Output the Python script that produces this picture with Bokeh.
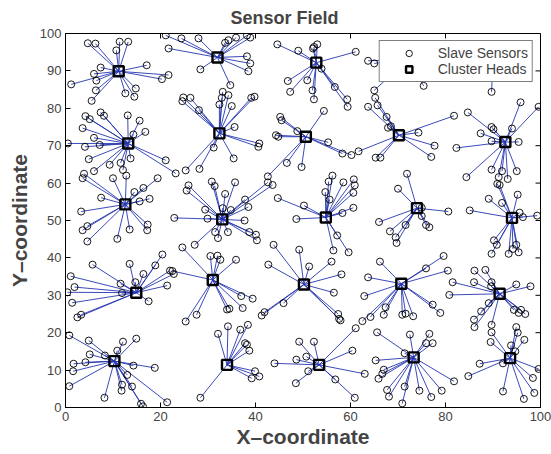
import math
from bokeh.plotting import figure
from bokeh.models import Range1d, FixedTicker, Legend, LegendItem
from bokeh.embed import file_html
from bokeh.resources import INLINE

# Cluster heads
head_x = [11.2, 32.0, 52.8, 72.0, 90.0,
          13.2, 32.4, 50.6, 70.2, 92.6,
          12.6, 33.0, 54.8, 74.0, 94.0,
          14.9, 31.0, 50.2, 70.7, 91.4,
          10.3, 34.0, 53.4, 73.3, 93.6]
head_y = [89.9, 93.6, 92.2, 93.0, 93.0,
          70.6, 73.3, 72.4, 72.8, 71.0,
          54.3, 50.3, 50.8, 53.3, 50.7,
          30.7, 34.1, 32.9, 33.1, 30.4,
          12.4, 11.4, 11.4, 13.4, 13.2]

# Slave sensors, grouped by the cluster head they report to
slave_x = [
    [4.7, 6.3, 11.4, 13.2, 10.7, 17.1, 7.4, 6.0, 6.5, 1.2, 20.3, 21.7, 14.8, 12.6, 14.5, 6.4, 5.5],
    [24.4, 28.0, 33.6, 34.3, 35.9, 38.2, 38.9, 38.2, 38.9, 38.5, 28.4, 34.7, 21.1, 21.7],
    [49.0, 52.1, 52.3, 53.0, 61.1, 53.9, 50.9, 52.0, 52.3, 56.7, 59.3, 59.4, 44.6, 46.8, 47.3],
    [63.7, 65.0, 65.0, 75.4],
    [89.7],
    [4.2, 5.1, 7.4, 8.1, 13.1, 15.6, 16.8, 14.3, 3.6, 6.0, 0.5, 4.1, 7.2, 21.1, 13.7, 4.9, 9.3, 11.6, 12.1, 23.2, 6.0],
    [24.8, 24.6, 26.3, 28.1, 33.1, 34.3, 32.9, 32.4, 35.0, 39.1, 39.8, 35.6, 40.8, 40.6, 31.2, 35.4, 25.3, 28.2],
    [54.4, 55.3, 58.3, 60.2, 48.8, 45.2, 45.5, 44.3, 44.8, 42.6, 46.6, 49.7],
    [65.2, 65.7, 63.7, 67.6, 67.9, 68.5, 74.3, 61.7, 65.3, 66.3, 77.7, 77.0, 81.8],
    [84.7, 89.7, 90.1, 94.0, 95.8, 99.6, 87.4, 89.7, 95.4, 82.3, 89.7, 91.9, 93.1, 95.0, 84.4, 91.2],
    [3.9, 3.6, 10.0, 12.8, 19.4, 16.4, 14.5, 7.5, 17.7, 15.6, 3.3, 4.6, 3.6, 4.6, 10.9, 13.5, 17.3, 17.2],
    [25.9, 25.5, 30.8, 31.4, 35.7, 33.6, 29.4, 29.9, 33.1, 34.8, 37.8, 38.5, 37.7, 31.5, 32.1, 34.2, 38.7, 40.1, 40.3, 27.2, 22.9, 42.6, 43.6],
    [56.2, 55.4, 58.5, 60.7, 60.9, 54.7, 60.6, 55.6, 60.6, 58.3, 57.2, 56.4, 59.6, 50.2, 48.6, 44.7],
    [71.9, 70.0, 66.0, 68.3, 71.6, 69.5, 69.7, 80.6, 75.0, 75.0, 75.9, 76.6],
    [90.9, 91.4, 89.1, 91.9, 95.2, 85.1, 95.6, 96.3, 99.3, 90.2, 90.8, 89.7, 93.3, 94.2, 94.9, 95.4],
    [5.7, 13.5, 16.4, 20.4, 18.9, 22.0, 22.8, 1.1, 11.6, 14.7, 21.4, 1.9, 0.4, 11.9, 17.5, 1.4, 2.5, 3.3],
    [24.6, 30.5, 32.0, 32.6, 35.9, 37.0, 39.4, 37.3, 34.0, 34.5, 27.6, 25.3, 22.5],
    [56.5, 57.4, 57.6, 57.9, 49.2, 51.3, 56.0, 58.1, 45.9, 41.9, 41.3, 43.8, 42.7],
    [62.9, 62.5, 64.2, 67.0, 67.4, 70.9, 71.6, 73.2, 77.3, 78.9, 79.6, 75.9, 80.5, 66.2, 63.7],
    [81.5, 86.0, 89.6, 89.7, 94.9, 97.9, 80.8, 89.1, 87.5, 86.0, 86.1, 89.7, 94.4, 95.4, 96.8, 95.9, 86.1, 88.4],
    [0.8, 4.9, 12.1, 14.9, 5.1, 10.9, 8.3, 1.7, 4.2, 14.3, 18.8, 1.6, 13.0, 0.8, 11.9, 14.0, 11.8, 8.2, 15.9, 16.3, 21.4],
    [32.1, 34.2, 36.8, 38.4, 37.8, 38.2, 38.7, 39.9, 40.8, 39.2, 28.4],
    [61.1, 52.3, 49.2, 50.7, 60.4, 48.6, 44.0, 48.5, 51.1, 63.0, 56.8, 60.9],
    [65.6, 72.5, 71.4, 65.3, 67.0, 66.7, 65.9, 67.7, 68.1, 71.4, 70.9, 74.5, 77.0, 79.2, 81.8, 76.6, 75.9, 77.3],
    [89.7, 94.9, 95.2, 96.6, 93.8, 94.7, 89.5, 87.2, 84.8, 92.1, 99.6, 98.4, 98.7, 96.5, 92.1],
]
slave_y = [
    [97.4, 97.3, 97.8, 97.8, 95.5, 91.5, 90.9, 89.2, 87.4, 86.4, 87.8, 88.9, 85.3, 84.0, 83.1, 84.8, 82.0],
    [98.7, 98.7, 97.5, 98.2, 98.9, 99.5, 98.9, 93.9, 92.0, 89.9, 90.4, 86.2, 99.5, 96.0],
    [95.4, 96.0, 96.4, 97.1, 95.1, 90.6, 87.5, 84.8, 82.4, 85.7, 82.4, 80.4, 97.1, 87.3, 84.4],
    [92.7, 92.0, 84.8, 86.0],
    [84.4],
    [77.9, 77.1, 78.9, 78.0, 78.1, 76.7, 73.7, 73.0, 74.7, 72.1, 70.6, 69.7, 70.2, 66.1, 66.6, 66.4, 64.9, 65.4, 63.5, 62.6, 63.2],
    [82.9, 81.9, 82.8, 79.5, 84.4, 83.5, 82.8, 81.0, 80.6, 82.8, 83.1, 75.0, 70.6, 69.7, 69.5, 66.6, 63.4, 63.8],
    [79.3, 70.9, 67.9, 67.5, 73.9, 77.7, 76.8, 72.8, 72.4, 61.8, 65.4, 64.3],
    [82.8, 80.8, 80.4, 77.7, 74.8, 75.2, 73.5, 68.5, 66.8, 66.8, 70.0, 67.0, 78.0],
    [78.9, 75.0, 74.4, 74.6, 81.6, 80.4, 73.3, 71.2, 71.0, 69.4, 63.6, 63.2, 61.1, 63.2, 61.6, 61.6],
    [62.5, 61.3, 61.3, 62.0, 61.3, 58.7, 57.6, 56.1, 55.8, 55.1, 52.4, 48.5, 47.4, 44.4, 45.1, 47.6, 48.9, 47.4],
    [59.4, 58.0, 60.4, 59.2, 60.2, 57.1, 52.9, 50.5, 53.3, 52.8, 55.6, 53.6, 50.0, 46.9, 45.3, 46.9, 46.9, 46.2, 44.7, 43.5, 50.7, 60.2, 59.5],
    [62.0, 60.4, 60.2, 61.0, 59.4, 57.6, 57.4, 55.6, 53.4, 52.0, 46.0, 42.0, 41.5, 54.0, 50.4, 56.0],
    [62.5, 58.5, 49.6, 47.1, 48.8, 45.5, 44.0, 52.4, 53.4, 51.2, 48.8, 48.2],
    [59.8, 59.5, 55.8, 54.7, 56.9, 52.7, 52.1, 50.9, 51.3, 44.7, 43.5, 41.1, 41.1, 42.4, 43.5, 41.5],
    [38.2, 38.4, 35.7, 40.9, 38.0, 36.6, 35.7, 35.1, 33.1, 33.5, 32.6, 32.2, 30.8, 30.6, 28.4, 28.0, 24.1, 24.8],
    [42.8, 40.5, 40.6, 39.5, 39.5, 29.8, 29.1, 26.6, 26.2, 26.4, 24.8, 23.0, 36.5],
    [30.7, 25.0, 23.7, 23.3, 42.2, 37.7, 39.0, 35.6, 27.9, 25.5, 24.6, 43.5, 38.2],
    [29.8, 23.1, 24.2, 24.8, 26.8, 24.8, 25.1, 24.4, 27.5, 25.3, 40.5, 37.2, 36.6, 39.0, 34.8],
    [33.5, 33.5, 32.4, 33.5, 32.9, 32.4, 30.1, 27.9, 25.7, 23.5, 21.5, 22.1, 26.1, 25.3, 25.0, 26.1, 36.6, 36.8],
    [19.3, 17.9, 17.6, 18.4, 14.2, 15.2, 13.9, 11.7, 12.1, 11.2, 10.6, 9.7, 8.7, 5.7, 6.1, 5.6, 4.5, 2.6, 1.0, 0.3, 1.4],
    [19.7, 21.7, 20.8, 22.1, 17.2, 16.8, 15.2, 9.7, 8.3, 7.8, 2.6],
    [21.2, 17.6, 17.6, 13.6, 15.2, 12.8, 11.8, 6.5, 9.7, 9.0, 7.5, 2.6],
    [20.1, 19.5, 14.5, 12.6, 10.1, 9.0, 7.7, 4.7, 2.9, 5.6, 1.1, 4.5, 2.8, 4.5, 7.0, 19.7, 17.2, 17.2],
    [20.1, 21.5, 20.0, 18.1, 16.6, 15.0, 17.5, 11.7, 8.4, 11.8, 10.3, 7.9, 3.9, 2.3, 4.3],
]

x_ticks = [0, 20, 40, 60, 80, 100]
y_ticks = [0, 10, 20, 30, 40, 50, 60, 70, 80, 90, 100]

FONT = "Liberation Sans"
LINE_BLUE = "#2536b0"

sx, sy, hx, hy = [], [], [], []
for i in range(len(head_x)):
    for xv, yv in zip(slave_x[i], slave_y[i]):
        sx.append(xv)
        sy.append(yv)
        hx.append(head_x[i])
        hy.append(head_y[i])

p = figure(width=551, height=454, output_backend="svg", toolbar_location=None,
           x_range=Range1d(0, 100), y_range=Range1d(0, 100),
           min_border_left=65, min_border_right=11, min_border_top=33, min_border_bottom=47,
           title="Sensor Field")

p.title.text_font = FONT
p.title.text_font_size = "18px"
p.title.text_font_style = "bold"
p.title.align = "left"
p.title.offset = 165
p.title.standoff = 11

p.grid.visible = False
p.outline_line_color = "black"
p.outline_line_width = 1

for ax in [p.xaxis[0], p.yaxis[0]]:
    ax.major_tick_in = 5
    ax.major_tick_out = 0
    ax.minor_tick_line_color = None
    ax.axis_line_color = "black"
    ax.major_label_text_font = FONT
    ax.major_label_text_font_size = "13px"
    ax.axis_label_text_font = FONT
    ax.axis_label_text_font_size = "21px"
    ax.axis_label_text_font_style = "bold"
    ax.major_label_standoff = 4

p.xaxis[0].ticker = FixedTicker(ticks=x_ticks)
p.yaxis[0].ticker = FixedTicker(ticks=y_ticks)
p.xaxis[0].axis_label = "X\u2013coordinate"
p.yaxis[0].axis_label = "Y\u2013coordinate"
p.xaxis[0].axis_label_standoff = 1
p.yaxis[0].axis_label_standoff = 6

# Inward tick marks on the top and right edges of the box
p.ray(x=x_ticks, y=[100] * len(x_ticks), length=5, length_units="screen",
      angle=-math.pi / 2, line_color="black", line_width=1)
p.ray(x=[100] * len(y_ticks), y=y_ticks, length=5, length_units="screen",
      angle=math.pi, line_color="black", line_width=1)

p.segment(x0=hx, y0=hy, x1=sx, y1=sy, line_color=LINE_BLUE, line_width=0.9)
r_s = p.scatter(sx, sy, marker="circle", size=7, fill_color=None,
                line_color="black", line_width=0.9)
r_h = p.scatter(head_x, head_y, marker="square", size=10, fill_color=None,
                line_color="black", line_width=2.4)

legend = Legend(items=[LegendItem(label="Slave Sensors", renderers=[r_s]),
                       LegendItem(label="Cluster Heads", renderers=[r_h])],
                location="top_right")
legend.label_text_font = FONT
legend.label_text_font_size = "14px"
legend.border_line_color = "black"
legend.border_line_width = 1
legend.background_fill_alpha = 1.0
legend.margin = 7
legend.padding = 4
legend.spacing = 0
legend.glyph_width = 50
legend.glyph_height = 16
legend.label_height = 16
legend.label_standoff = 4
p.add_layout(legend)

open("out.html", "w").write(file_html(p, INLINE))
